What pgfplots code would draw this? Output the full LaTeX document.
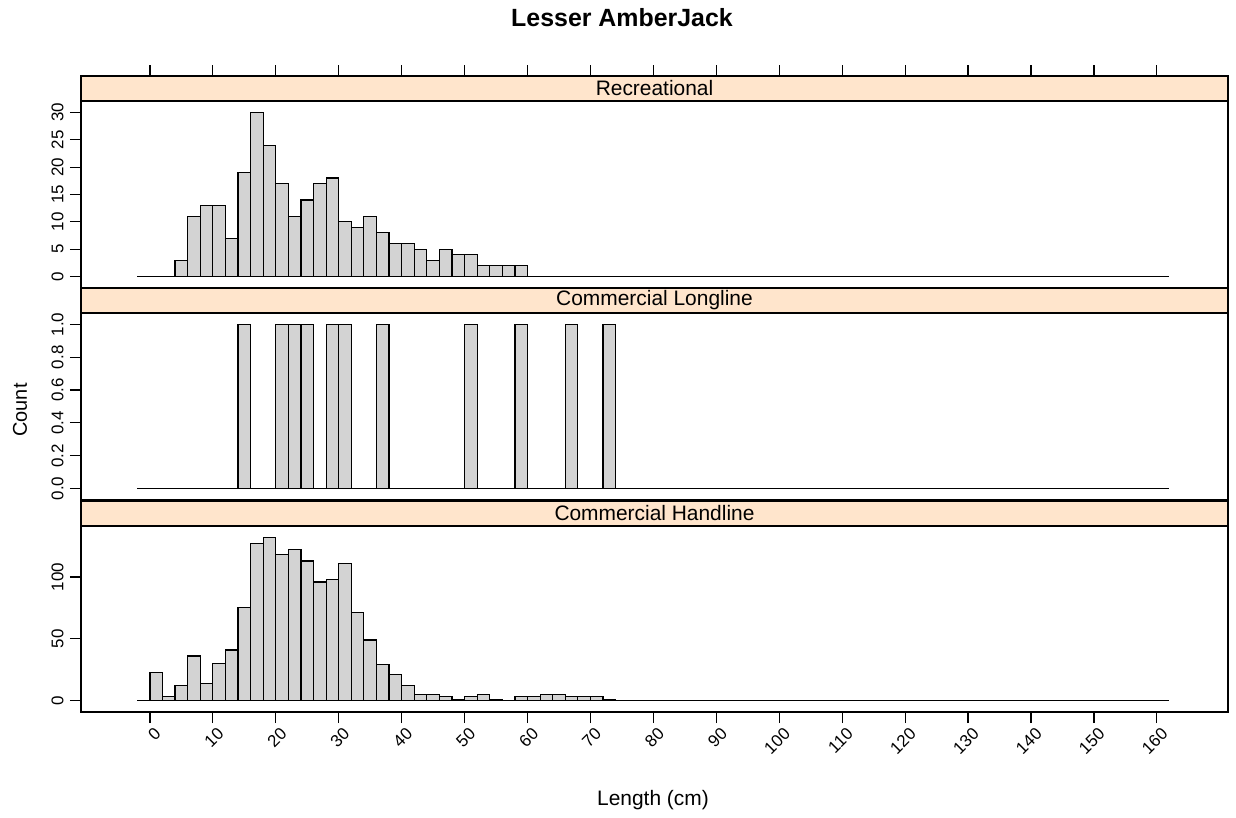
\documentclass[border=0pt]{standalone}
\usepackage{fontspec}
\setmainfont{Liberation Sans}
\usepackage{pgfplots}
\pgfplotsset{compat=1.18}
\definecolor{stripcol}{HTML}{FFE5CC}
\definecolor{barcol}{HTML}{D3D3D3}

\pgfplotsset{
  panel/.style={
    scale only axis, width=1147bp, height=187bp,
    xmin=-10.95, xmax=171.3,
    clip=false,
    axis line style={line width=1.3bp},
    tick style={black, line width=1.2bp},
    tick align=outside, major tick length=11bp,
    ytick pos=left, xtick pos=bottom,
    /pgf/number format/assume math mode=true,
    ticklabel style={font=\fontsize{17}{17}\selectfont},
    yticklabel style={rotate=90, anchor=south, yshift=3bp},
  },
  hist/.style={ybar interval, fill=barcol, draw=black, line width=1.2bp},
  base/.style={black, line width=1.2bp, no markers},
}
\newcommand{\strip}[1]{%
  \draw[fill=stripcol, line width=1.3bp] (rel axis cs:0,1) rectangle ([yshift=25bp]rel axis cs:1,1);
  \node[font=\fontsize{21}{21}\selectfont] at ([yshift=12.5bp]rel axis cs:0.5,1) {#1};
}

\begin{document}
\begin{tikzpicture}
\useasboundingbox (0bp,0bp) rectangle (1236bp,818bp);

% Recreational
\begin{axis}[panel, at={(81bp,530bp)}, anchor=south west,
  ymin=-2.1, ymax=32.1, ytick={0,5,...,30}, xtick=\empty]
\addplot[base] coordinates {(-2,0) (162,0)};
\addplot[hist] coordinates {
  (4,3) (6,11) (8,13) (10,13) (12,7) (14,19) (16,30) (18,24) (20,17) (22,11)
  (24,14) (26,17) (28,18) (30,10) (32,9) (34,11) (36,8) (38,6) (40,6) (42,5)
  (44,3) (46,5) (48,4) (50,4) (52,2) (54,2) (56,2) (58,2) (60,0)};
\strip{Recreational}
\pgfplotsinvokeforeach{0,10,...,160}{
  \draw[line width=1.2bp] ([yshift=25bp]axis cs:#1,32.1) -- ([yshift=36bp]axis cs:#1,32.1);
}
\end{axis}

% Commercial Longline
\begin{axis}[panel, at={(81bp,318bp)}, anchor=south west,
  ymin=-0.07, ymax=1.07, ytick={0,0.2,...,1.0}, xtick=\empty,
  yticklabel style={/pgf/number format/.cd, fixed, fixed zerofill, precision=1}]
\addplot[base] coordinates {(-2,0) (162,0)};
\addplot[hist] coordinates {
  (14,1) (16,0) (18,0) (20,1) (22,1) (24,1) (26,0) (28,1) (30,1) (32,0) (34,0)
  (36,1) (38,0) (40,0) (42,0) (44,0) (46,0) (48,0) (50,1) (52,0) (54,0) (56,0)
  (58,1) (60,0) (62,0) (64,0) (66,1) (68,0) (70,0) (72,1) (74,0)};
\strip{Commercial Longline}
\end{axis}

% Commercial Handline
\begin{axis}[panel, at={(81bp,106bp)}, anchor=south west, height=186bp,
  ymin=-9.24, ymax=141.24, ytick={0,50,100},
  xtick={0,10,...,160},
  xticklabel style={rotate=45, anchor=north east, inner sep=2bp, yshift=-3bp, xshift=2bp}]
\addplot[base] coordinates {(-2,0) (162,0)};
\addplot[hist] coordinates {
  (0,23) (2,3) (4,12) (6,36) (8,14) (10,30) (12,41) (14,75) (16,127) (18,132)
  (20,118) (22,122) (24,113) (26,96) (28,98) (30,111) (32,71) (34,49) (36,29)
  (38,21) (40,12) (42,5) (44,5) (46,3) (48,1) (50,3) (52,5) (54,1) (56,0)
  (58,3) (60,3) (62,5) (64,5) (66,3) (68,3) (70,3) (72,1) (74,0)};
\strip{Commercial Handline}
\end{axis}

\node[font=\fontsize{25}{25}\selectfont\bfseries] at (622bp,800bp) {Lesser AmberJack};
\node[font=\fontsize{21}{21}\selectfont] at (653bp,18bp) {Length (cm)};
\node[font=\fontsize{20}{20}\selectfont, rotate=90] at (20bp,408bp) {Count};
\end{tikzpicture}
\end{document}
